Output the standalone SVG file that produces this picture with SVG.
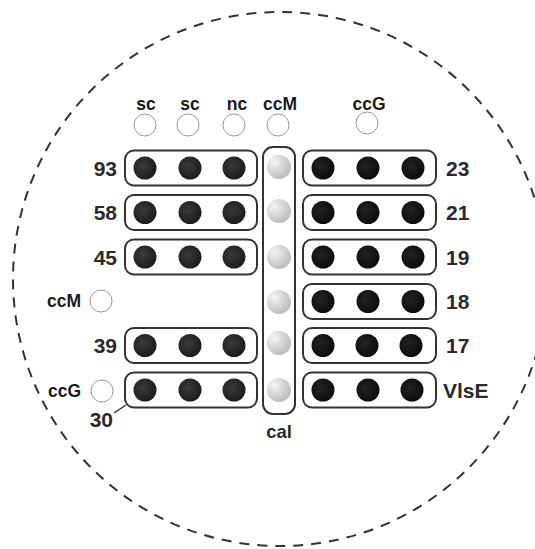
<svg xmlns="http://www.w3.org/2000/svg" width="535" height="549" viewBox="0 0 535 549">
<defs>
<radialGradient id="gl" cx="0.4" cy="0.4" r="0.65">
<stop offset="0" stop-color="#3a3a3a"/>
<stop offset="1" stop-color="#1a1a1a"/>
</radialGradient>
<radialGradient id="gr" cx="0.4" cy="0.4" r="0.65">
<stop offset="0" stop-color="#222"/>
<stop offset="1" stop-color="#0a0a0a"/>
</radialGradient>
<radialGradient id="gc" cx="0.3" cy="0.3" r="0.8">
<stop offset="0" stop-color="#f4f4f4"/>
<stop offset="1" stop-color="#b8b8b8"/>
</radialGradient>
<style>
.box{fill:none;stroke:#333;stroke-width:2}
.dl{fill:url(#gl)}
.dr{fill:url(#gr)}
.dc{fill:url(#gc)}
.oc{fill:#fff;stroke:#999;stroke-width:1}
.num{font-family:"Liberation Sans",Arial,sans-serif;font-weight:bold;font-size:21px;fill:#2a2a2a}
.lab{font-family:"Liberation Sans",Arial,sans-serif;font-weight:bold;font-size:17.5px;fill:#1a1a1a}
</style>
</defs>
<rect width="535" height="549" fill="#fff"/>
<circle cx="280" cy="279" r="267" fill="none" stroke="#333" stroke-width="2" stroke-dasharray="10,8"/>

<g id="top-controls">
<text class="lab" x="146" y="110" text-anchor="middle">sc</text>
<circle class="oc" cx="145" cy="125" r="11"/>
<text class="lab" x="190" y="110" text-anchor="middle">sc</text>
<circle class="oc" cx="188" cy="125" r="11"/>
<text class="lab" x="237" y="110" text-anchor="middle">nc</text>
<circle class="oc" cx="234" cy="125" r="11"/>
<text class="lab" x="280" y="110" text-anchor="middle">ccM</text>
<circle class="oc" cx="278" cy="125" r="11"/>
<text class="lab" x="369" y="110" text-anchor="middle">ccG</text>
<circle class="oc" cx="367" cy="123" r="11"/>
</g>

<g id="left-controls">
<text class="lab" x="81" y="307" text-anchor="end">ccM</text>
<circle class="oc" cx="101" cy="301" r="11"/>
<text class="lab" x="81" y="397" text-anchor="end">ccG</text>
<circle class="oc" cx="102" cy="391" r="11"/>
</g>

<g id="L93">
<text class="num" x="117" y="175.5" text-anchor="end">93</text>
<rect class="box" x="125" y="150.5" width="132" height="35" rx="9"/>
<circle class="dl" cx="145" cy="168" r="11.5"/><circle class="dl" cx="190" cy="168" r="11.5"/><circle class="dl" cx="234" cy="168" r="11.5"/>
</g>
<g id="L58">
<text class="num" x="117" y="220" text-anchor="end">58</text>
<rect class="box" x="125" y="195" width="132" height="35" rx="9"/>
<circle class="dl" cx="145" cy="212.5" r="11.5"/><circle class="dl" cx="190" cy="212.5" r="11.5"/><circle class="dl" cx="234" cy="212.5" r="11.5"/>
</g>
<g id="L45">
<text class="num" x="117" y="264.5" text-anchor="end">45</text>
<rect class="box" x="125" y="239.5" width="132" height="35" rx="9"/>
<circle class="dl" cx="145" cy="257" r="11.5"/><circle class="dl" cx="190" cy="257" r="11.5"/><circle class="dl" cx="234" cy="257" r="11.5"/>
</g>
<g id="L39">
<text class="num" x="117" y="353" text-anchor="end">39</text>
<rect class="box" x="125" y="328" width="132" height="35" rx="9"/>
<circle class="dl" cx="145" cy="345.5" r="11.5"/><circle class="dl" cx="190" cy="345.5" r="11.5"/><circle class="dl" cx="234" cy="345.5" r="11.5"/>
</g>
<g id="L30">
<text class="num" x="113" y="427" text-anchor="end">30</text>
<rect class="box" x="125" y="372.5" width="132" height="35" rx="9"/>
<circle class="dl" cx="145" cy="390" r="11.5"/><circle class="dl" cx="190" cy="390" r="11.5"/><circle class="dl" cx="234" cy="390" r="11.5"/>
</g>

<g id="cal">
<rect class="box" x="263" y="147" width="32" height="267" rx="10"/>
<circle class="dc" cx="279" cy="167" r="12"/>
<circle class="dc" cx="279" cy="211" r="12"/>
<circle class="dc" cx="279" cy="257" r="12"/>
<circle class="dc" cx="279" cy="302" r="12"/>
<circle class="dc" cx="279" cy="343" r="12"/>
<circle class="dc" cx="279" cy="390" r="12"/>
<text class="num" x="279" y="438" text-anchor="middle" style="font-size:18.5px">cal</text>
</g>

<g id="R23">
<rect class="box" x="303" y="150.5" width="133" height="35" rx="9"/>
<circle class="dr" cx="323" cy="168" r="11.5"/><circle class="dr" cx="368" cy="168" r="11.5"/><circle class="dr" cx="413" cy="168" r="11.5"/>
<text class="num" x="446" y="175.5">23</text>
</g>
<g id="R21">
<rect class="box" x="303" y="195" width="133" height="35" rx="9"/>
<circle class="dr" cx="323" cy="212.5" r="11.5"/><circle class="dr" cx="368" cy="212.5" r="11.5"/><circle class="dr" cx="413" cy="212.5" r="11.5"/>
<text class="num" x="446" y="220">21</text>
</g>
<g id="R19">
<rect class="box" x="303" y="239.5" width="133" height="35" rx="9"/>
<circle class="dr" cx="323" cy="257" r="11.5"/><circle class="dr" cx="368" cy="257" r="11.5"/><circle class="dr" cx="413" cy="257" r="11.5"/>
<text class="num" x="446" y="264.5">19</text>
</g>
<g id="R18">
<rect class="box" x="303" y="284" width="133" height="35" rx="9"/>
<circle class="dr" cx="323" cy="301.5" r="11.5"/><circle class="dr" cx="368" cy="301.5" r="11.5"/><circle class="dr" cx="413" cy="301.5" r="11.5"/>
<text class="num" x="446" y="309">18</text>
</g>
<g id="R17">
<rect class="box" x="303" y="328" width="133" height="35" rx="9"/>
<circle class="dr" cx="323" cy="345.5" r="11.5"/><circle class="dr" cx="367" cy="345.5" r="11.5"/><circle class="dr" cx="411" cy="345.5" r="11.5"/>
<text class="num" x="446" y="353">17</text>
</g>
<g id="RVlsE">
<rect class="box" x="303" y="372.5" width="133" height="35" rx="9"/>
<circle class="dr" cx="323" cy="390" r="11.5"/><circle class="dr" cx="368" cy="390" r="11.5"/><circle class="dr" cx="412" cy="390" r="11.5"/>
<text class="num" x="443" y="397.5">VlsE</text>
</g>

<g id="connectors">
<line x1="114" y1="413" x2="126" y2="405" stroke="#333" stroke-width="1.5"/>
</g>
</svg>
